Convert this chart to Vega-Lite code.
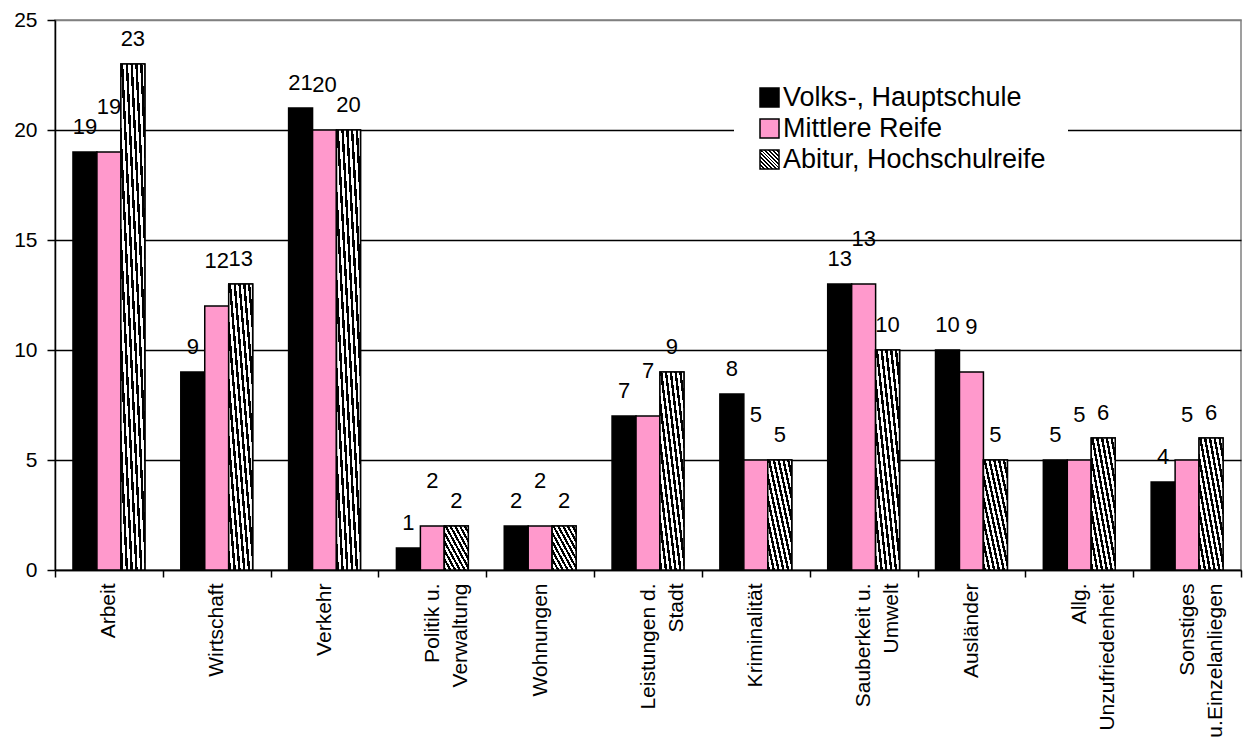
{
  "$schema": "https://vega.github.io/schema/vega-lite/v6.json",
  "autosize": {"type": "none"},
  "padding": {"left": 55, "top": 20, "right": 6, "bottom": 170},
  "width": 1186,
  "height": 550,
  "background": "white",
  "config": {
    "font": "Liberation Sans",
    "view": {"stroke": "#808080", "strokeWidth": 1.5}
  },
  "data": {
    "values": [
      {"cat": "Arbeit", "group": "Volks-, Hauptschule", "value": 19},
      {"cat": "Arbeit", "group": "Mittlere Reife", "value": 19},
      {"cat": "Arbeit", "group": "Abitur, Hochschulreife", "value": 23},
      {"cat": "Wirtschaft", "group": "Volks-, Hauptschule", "value": 9},
      {"cat": "Wirtschaft", "group": "Mittlere Reife", "value": 12},
      {"cat": "Wirtschaft", "group": "Abitur, Hochschulreife", "value": 13},
      {"cat": "Verkehr", "group": "Volks-, Hauptschule", "value": 21},
      {"cat": "Verkehr", "group": "Mittlere Reife", "value": 20},
      {"cat": "Verkehr", "group": "Abitur, Hochschulreife", "value": 20},
      {"cat": "Politik u.\nVerwaltung", "group": "Volks-, Hauptschule", "value": 1},
      {"cat": "Politik u.\nVerwaltung", "group": "Mittlere Reife", "value": 2},
      {"cat": "Politik u.\nVerwaltung", "group": "Abitur, Hochschulreife", "value": 2},
      {"cat": "Wohnungen", "group": "Volks-, Hauptschule", "value": 2},
      {"cat": "Wohnungen", "group": "Mittlere Reife", "value": 2},
      {"cat": "Wohnungen", "group": "Abitur, Hochschulreife", "value": 2},
      {"cat": "Leistungen d.\nStadt", "group": "Volks-, Hauptschule", "value": 7},
      {"cat": "Leistungen d.\nStadt", "group": "Mittlere Reife", "value": 7},
      {"cat": "Leistungen d.\nStadt", "group": "Abitur, Hochschulreife", "value": 9},
      {"cat": "Kriminalität", "group": "Volks-, Hauptschule", "value": 8},
      {"cat": "Kriminalität", "group": "Mittlere Reife", "value": 5},
      {"cat": "Kriminalität", "group": "Abitur, Hochschulreife", "value": 5},
      {"cat": "Sauberkeit u.\nUmwelt", "group": "Volks-, Hauptschule", "value": 13},
      {"cat": "Sauberkeit u.\nUmwelt", "group": "Mittlere Reife", "value": 13},
      {"cat": "Sauberkeit u.\nUmwelt", "group": "Abitur, Hochschulreife", "value": 10},
      {"cat": "Ausländer", "group": "Volks-, Hauptschule", "value": 10},
      {"cat": "Ausländer", "group": "Mittlere Reife", "value": 9},
      {"cat": "Ausländer", "group": "Abitur, Hochschulreife", "value": 5},
      {"cat": "Allg.\nUnzufriedenheit", "group": "Volks-, Hauptschule", "value": 5},
      {"cat": "Allg.\nUnzufriedenheit", "group": "Mittlere Reife", "value": 5},
      {"cat": "Allg.\nUnzufriedenheit", "group": "Abitur, Hochschulreife", "value": 6},
      {"cat": "Sonstiges\nu.Einzelanliegen", "group": "Volks-, Hauptschule", "value": 4},
      {"cat": "Sonstiges\nu.Einzelanliegen", "group": "Mittlere Reife", "value": 5},
      {"cat": "Sonstiges\nu.Einzelanliegen", "group": "Abitur, Hochschulreife", "value": 6}
    ]
  },
  "encoding": {
    "x": {
      "field": "cat", "type": "nominal", "sort": null,
      "scale": {"paddingInner": 0, "paddingOuter": 0},
      "axis": {
        "title": null, "labelAngle": -90, "labelAlign": "right", "labelBaseline": "middle",
        "labelExpr": "split(datum.label, '\\n')", "labelLineHeight": 28,
        "labelFontSize": 21, "labelColor": "black", "labelPadding": 6,
        "tickBand": "extent", "tickColor": "black", "tickSize": 7, "tickWidth": 1.5,
        "domainColor": "black", "domainWidth": 1.5, "labelLimit": 0
      }
    },
    "xOffset": {
      "field": "group", "type": "nominal", "sort": null,
      "scale": {"paddingInner": 0, "paddingOuter": 0.75}
    },
    "y": {
      "field": "value", "type": "quantitative",
      "scale": {"domain": [0, 25], "nice": false},
      "axis": {
        "title": null, "values": [0, 5, 10, 15, 20, 25],
        "labelFontSize": 21, "labelColor": "black", "labelPadding": 10,
        "tickColor": "black", "tickSize": 8, "tickWidth": 1.5,
        "domainColor": "black", "domainWidth": 1.5,
        "grid": true, "gridWidth": 1.5,
        "gridColor": {"condition": {"test": "datum.value === 25", "value": "#808080"}, "value": "black"}
      }
    }
  },
  "layer": [
    {
      "mark": {"type": "bar", "stroke": "black", "strokeWidth": 1.5},
      "encoding": {
        "fill": {
          "field": "group", "type": "nominal", "sort": null,
          "scale": {
            "domain": ["Volks-, Hauptschule", "Mittlere Reife", "Abitur, Hochschulreife"],
            "range": ["#000000", "#ff99cc", "url(#gradient_0) #8c8c8c"]
          },
          "legend": {
            "title": null, "orient": "none", "legendX": 679, "legendY": 42,
            "fillColor": "white", "padding": 22, "symbolType": "square", "symbolSize": 361,
            "symbolStrokeColor": "black", "symbolStrokeWidth": 1.5,
            "labelFontSize": 27, "labelColor": "black", "labelOffset": 0, "rowPadding": 3,
            "labelLimit": 0
          }
        }
      }
    },
    {
      "transform": [{"filter": "datum.group === 'Abitur, Hochschulreife'"}],
      "mark": {
        "type": "bar", "stroke": "black", "strokeWidth": 1.5,
        "fill": {
          "gradient": "linear", "x1": 0, "y1": 1, "x2": 1, "y2": 0,
          "stops": [
            {"offset": 0.00, "color": "black"}, {"offset": 0.05, "color": "black"},
            {"offset": 0.05, "color": "white"}, {"offset": 0.10, "color": "white"},
            {"offset": 0.10, "color": "black"}, {"offset": 0.15, "color": "black"},
            {"offset": 0.15, "color": "white"}, {"offset": 0.20, "color": "white"},
            {"offset": 0.20, "color": "black"}, {"offset": 0.25, "color": "black"},
            {"offset": 0.25, "color": "white"}, {"offset": 0.30, "color": "white"},
            {"offset": 0.30, "color": "black"}, {"offset": 0.35, "color": "black"},
            {"offset": 0.35, "color": "white"}, {"offset": 0.40, "color": "white"},
            {"offset": 0.40, "color": "black"}, {"offset": 0.45, "color": "black"},
            {"offset": 0.45, "color": "white"}, {"offset": 0.50, "color": "white"},
            {"offset": 0.50, "color": "black"}, {"offset": 0.55, "color": "black"},
            {"offset": 0.55, "color": "white"}, {"offset": 0.60, "color": "white"},
            {"offset": 0.60, "color": "black"}, {"offset": 0.65, "color": "black"},
            {"offset": 0.65, "color": "white"}, {"offset": 0.70, "color": "white"},
            {"offset": 0.70, "color": "black"}, {"offset": 0.75, "color": "black"},
            {"offset": 0.75, "color": "white"}, {"offset": 0.80, "color": "white"},
            {"offset": 0.80, "color": "black"}, {"offset": 0.85, "color": "black"},
            {"offset": 0.85, "color": "white"}, {"offset": 0.90, "color": "white"},
            {"offset": 0.90, "color": "black"}, {"offset": 0.95, "color": "black"},
            {"offset": 0.95, "color": "white"}, {"offset": 1.00, "color": "white"}
          ]
        }
      },
      "encoding": {}
    },
    {
      "transform": [{"filter": "datum.group !== 'Mittlere Reife'"}],
      "mark": {"type": "text", "fontSize": 22, "color": "black", "baseline": "middle", "dy": -25},
      "encoding": {"text": {"field": "value", "type": "quantitative"}}
    },
    {
      "transform": [{"filter": "datum.group === 'Mittlere Reife'"}],
      "mark": {"type": "text", "fontSize": 22, "color": "black", "baseline": "middle", "dy": -45},
      "encoding": {"text": {"field": "value", "type": "quantitative"}}
    }
  ]
}
